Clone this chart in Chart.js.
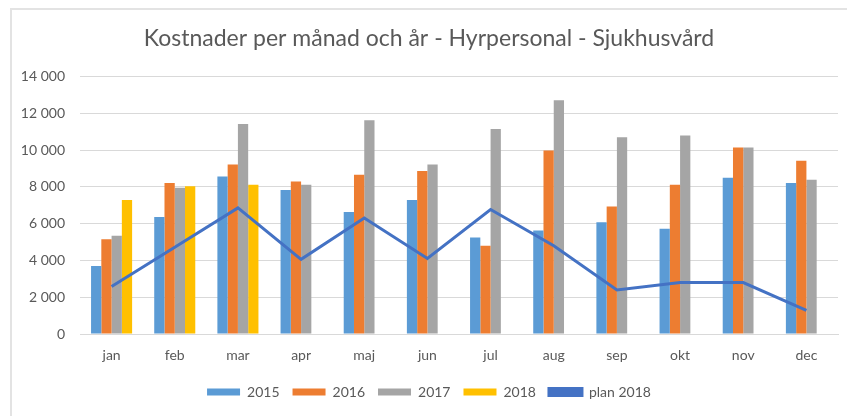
<!DOCTYPE html>
<html>
<head>
<meta charset="utf-8">
<script src="https://cdn.jsdelivr.net/npm/chart.js@4"></script>
<style>
  html, body { margin: 0; padding: 0; background: #fff; }
  #wrap { position: relative; width: 847px; height: 416px; overflow: hidden; }
  #frame { position: absolute; left: 10px; top: 8px; width: 840px; height: 410px;
           border-top: 2px solid #e3e3e3; border-left: 2px solid #e3e3e3; }
  #chart { position: absolute; left: 0; top: 0; }
</style>
</head>
<body>
<div id="wrap">
  <div id="frame"></div>
  <canvas id="chart" width="847" height="416"></canvas>
</div>
<script>
// Månader och värden (tkr) avlästa från originalbilden
var months = ['jan', 'feb', 'mar', 'apr', 'maj', 'jun', 'jul', 'aug', 'sep', 'okt', 'nov', 'dec'];
var y2015 = [3700, 6370, 8570, 7830, 6640, 7290, 5250, 5630, 6080, 5720, 8500, 8210];
var y2016 = [5160, 8210, 9220, 8300, 8660, 8860, 4800, 9980, 6930, 8120, 10140, 9420];
var y2017 = [5340, 7960, 11420, 8120, 11620, 9220, 11150, 12720, 10700, 10790, 10140, 8390];
var y2018 = [7290, 8030, 8120, null, null, null, null, null, null, null, null, null];
var plan2018 = [2580, 4720, 6860, 4060, 6310, 4110, 6770, 4800, 2400, 2800, 2800, 1280];
var yTicks = [0, 2000, 4000, 6000, 8000, 10000, 12000, 14000];

var textColor = '#595959';
var fontFamily = 'Lato, "Open Sans", sans-serif';

document.addEventListener("DOMContentLoaded", function () {
    var canvas = document.getElementById('chart');
    if (!canvas) return;
    var ctx = canvas.getContext('2d');

    var chart = new Chart(ctx, {
        type: 'bar',
        data: {
            labels: months,
            datasets: [
                { label: '2015', data: y2015, backgroundColor: '#5B9BD5' },
                { label: '2016', data: y2016, backgroundColor: '#ED7D31' },
                { label: '2017', data: y2017, backgroundColor: '#A5A5A5' },
                { label: '2018', data: y2018, backgroundColor: '#FFC000' },
                {
                    type: 'line',
                    label: 'plan 2018',
                    data: plan2018,
                    borderColor: '#4472C4',
                    backgroundColor: '#4472C4',
                    borderWidth: 3,
                    pointRadius: 0,
                    tension: 0,
                    order: -1
                }
            ]
        },
        options: {
            responsive: false,
            animation: false,
            datasets: {
                bar: { categoryPercentage: 0.65, barPercentage: 1.0 }
            },
            layout: { padding: { top: 0, right: 9, bottom: 7, left: 20 } },
            plugins: {
                tooltip: { enabled: false },
                title: {
                    display: true,
                    text: 'Kostnader per månad och år - Hyrpersonal - Sjukhusvård',
                    color: textColor,
                    font: { family: fontFamily, size: 23, weight: 'normal' },
                    padding: { top: 25, bottom: 24 }
                },
                legend: {
                    position: 'bottom',
                    labels: {
                        color: textColor,
                        font: { family: fontFamily, size: 14 },
                        boxWidth: 33,
                        boxHeight: 7,
                        padding: 13,
                        sort: function (a, b) { return a.datasetIndex - b.datasetIndex; }
                    }
                }
            },
            scales: {
                x: {
                    afterFit: function (scale) { scale.height = 38; },
                    grid: { display: false },
                    border: { color: '#d9d9d9', width: 1 },
                    ticks: {
                        color: textColor,
                        font: { family: fontFamily, size: 14 },
                        padding: 5
                    }
                },
                y: {
                    min: 0,
                    max: 14000,
                    afterFit: function (scale) { scale.width = 60; },
                    afterBuildTicks: function (scale) {
                        scale.ticks = yTicks.map(function (v) { return { value: v }; });
                    },
                    grid: { color: '#d9d9d9', lineWidth: 1, drawTicks: false },
                    border: { display: false },
                    ticks: {
                        color: textColor,
                        font: { family: fontFamily, size: 14 },
                        padding: 15,
                        callback: function (v) {
                            return String(v).replace(/\B(?=(\d{3})+(?!\d))/g, ' ');
                        }
                    }
                }
            }
        }
    });
});
</script>
</body>
</html>
